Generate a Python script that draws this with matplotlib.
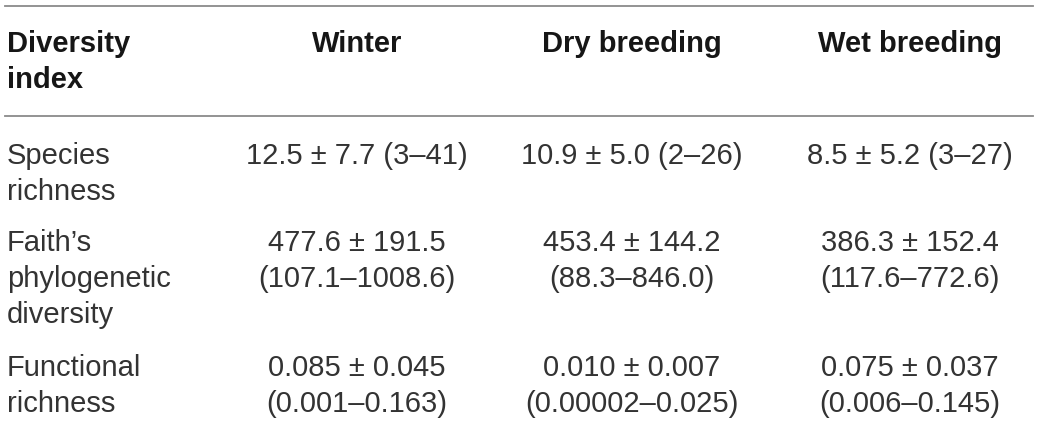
import matplotlib
matplotlib.use("Agg")
import matplotlib.pyplot as plt

columns = ["Diversity\nindex", "Winter", "Dry breeding", "Wet breeding"]
row_labels = ["Species\nrichness", "Faith\u2019s\nphylogenetic\ndiversity", "Functional\nrichness"]
winter = ["12.5 \u00b1 7.7 (3\u201341)", "477.6 \u00b1 191.5\n(107.1\u20131008.6)", "0.085 \u00b1 0.045\n(0.001\u20130.163)"]
dry = ["10.9 \u00b1 5.0 (2\u201326)", "453.4 \u00b1 144.2\n(88.3\u2013846.0)", "0.010 \u00b1 0.007\n(0.00002\u20130.025)"]
wet = ["8.5 \u00b1 5.2 (3\u201327)", "386.3 \u00b1 152.4\n(117.6\u2013772.6)", "0.075 \u00b1 0.037\n(0.006\u20130.145)"]

W, H = 1039, 425
fig = plt.figure(figsize=(W / 100, H / 100), dpi=100)
ax = fig.add_axes([0, 0, 1, 1])
ax.set_xlim(0, W)
ax.set_ylim(H, 0)
ax.axis("off")

font = "Liberation Sans"
fs = 21
ls = 1.38
col_x = [7, 357, 632, 910]
header_y = 29.5
row_tops = [141.5, 228.5, 353.5]

line_kw = dict(color="#8a8a8a", lw=1.3)
ax.plot([5, 1033], [5.5, 5.5], **line_kw)
ax.plot([5, 1033], [116, 116], **line_kw)

for i, c in enumerate(columns):
    ax.text(col_x[i], header_y, c, ha="left" if i == 0 else "center", va="top",
            fontsize=fs, fontweight="bold", family=font, color="#161616", linespacing=ls)

for r, lab in enumerate(row_labels):
    y = row_tops[r]
    ax.text(col_x[0], y, lab, ha="left", va="top", fontsize=fs, family=font,
            color="#333333", linespacing=ls)
    for j, vals in enumerate([winter, dry, wet]):
        ax.text(col_x[j + 1], y, vals[r], ha="center", va="top", fontsize=fs,
                family=font, color="#333333", linespacing=ls, multialignment="center")

fig.savefig("out.png", dpi=100, facecolor="white")
